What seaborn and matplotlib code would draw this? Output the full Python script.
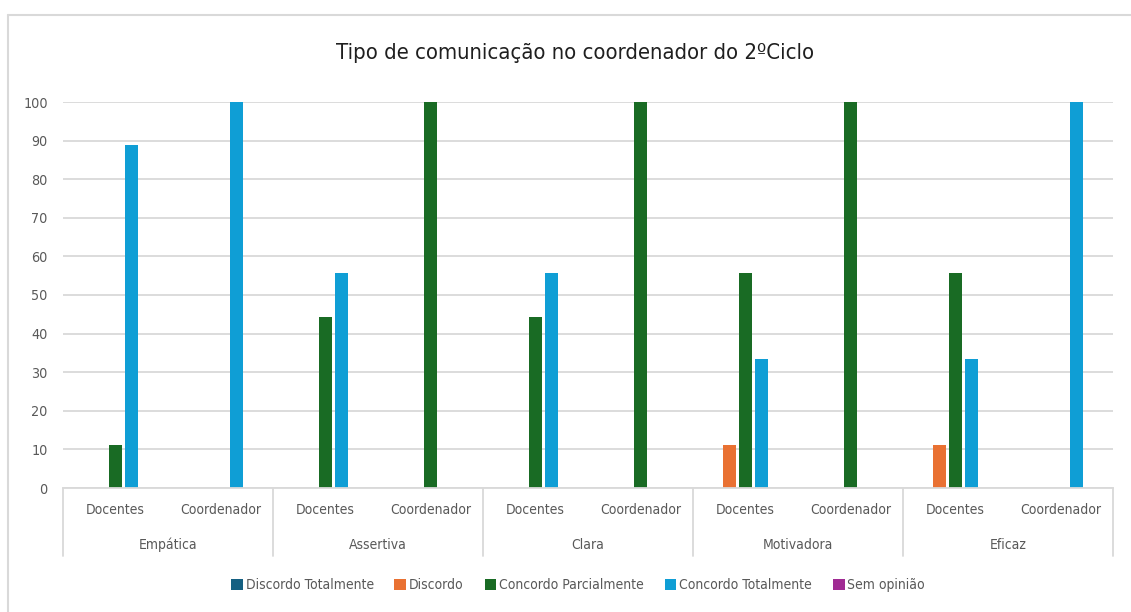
import matplotlib
matplotlib.use("Agg")
import matplotlib.pyplot as plt
import matplotlib.transforms as mtransforms
from matplotlib.patches import Patch
from matplotlib.lines import Line2D
import seaborn as sns
import pandas as pd

# Categorias (dois níveis) e séries
atributos = ["Empática", "Assertiva", "Clara", "Motivadora", "Eficaz"]
inquiridos = ["Docentes", "Coordenador"]
series = ["Discordo Totalmente", "Discordo", "Concordo Parcialmente",
          "Concordo Totalmente", "Sem opinião"]
cores = ["#156082", "#E97132", "#196B24", "#0F9ED5", "#A02B93"]

# Percentagens por categoria (ordem: atributo x inquirido)
discordo_totalmente = [0, 0, 0, 0, 0, 0, 0, 0, 0, 0]
discordo = [0, 0, 0, 0, 0, 0, 11.1, 0, 11.1, 0]
concordo_parcialmente = [11.1, 0, 44.4, 100, 44.4, 100, 55.6, 100, 55.6, 0]
concordo_totalmente = [88.9, 100, 55.6, 0, 55.6, 0, 33.3, 0, 33.3, 100]
sem_opiniao = [0, 0, 0, 0, 0, 0, 0, 0, 0, 0]
y_ticks = [0, 10, 20, 30, 40, 50, 60, 70, 80, 90, 100]

categorias = [f"{a}|{i}" for a in atributos for i in inquiridos]
valores = [discordo_totalmente, discordo, concordo_parcialmente,
           concordo_totalmente, sem_opiniao]
df = pd.DataFrame([
    {"categoria": c, "serie": s, "valor": v}
    for s, vals in zip(series, valores)
    for c, v in zip(categorias, vals)
])

sns.set_theme(style="white")
plt.rcParams["font.family"] = ["DejaVu Sans"]
plt.rcParams["font.stretch"] = "condensed"

W, H = 1131, 612
fig = plt.figure(figsize=(W / 100, H / 100), dpi=100)
ax = fig.add_axes([63 / W, 1 - 488 / H, (1113 - 63) / W, (488 - 102) / H])

sns.barplot(data=df, x="categoria", y="valor", hue="serie",
            order=categorias, hue_order=series, palette=cores, saturation=1,
            width=0.76, gap=0.18, linewidth=0, legend=False, ax=ax)

grid_c = "#D9D9D9"
txt_c = "#595959"
fs = 10
ax.set_ylim(0, 100)
ax.set_xlim(-0.5, len(categorias) - 0.5)
ax.set_yticks(y_ticks)
ax.set_yticklabels([str(t) for t in y_ticks], fontsize=fs + 0.3, color=txt_c)
ax.tick_params(axis="y", length=0, pad=11)
ax.set_xticks([])
ax.set_xlabel("")
ax.set_ylabel("")
ax.yaxis.grid(True, color=grid_c, linewidth=1.3)
ax.set_axisbelow(True)
for s in ["top", "right", "left"]:
    ax.spines[s].set_visible(False)
ax.spines["bottom"].set_color(grid_c)
ax.spines["bottom"].set_linewidth(1.3)

# Eixo de categorias em dois níveis
trans = mtransforms.blended_transform_factory(ax.transData, ax.transAxes)
for k, c in enumerate(categorias):
    ax.text(k, -0.057, c.split("|")[1], transform=trans, ha="center",
            va="center", fontsize=fs, color=txt_c)
for g, a in enumerate(atributos):
    ax.text(2 * g + 0.5, -0.148, a, transform=trans, ha="center",
            va="center", fontsize=fs, color=txt_c)
for b in range(len(atributos) + 1):
    x = 2 * b - 0.5
    ax.add_line(Line2D([x, x], [0, -0.175], transform=trans, color=grid_c,
                       linewidth=1.3, clip_on=False))

fig.suptitle("Tipo de comunicação no coordenador do 2ºCiclo", x=575 / W,
             y=1 - 53 / H, va="center", fontsize=15.8, color="#1F1F1F")

handles = [Patch(facecolor=c, edgecolor="none", label=s)
           for s, c in zip(series, cores)]
fig.legend(handles=handles, loc="center", bbox_to_anchor=(578 / W, 1 - 585 / H),
           ncol=5, frameon=False, fontsize=fs, handlelength=0.85,
           handleheight=0.85, handletextpad=0.2, columnspacing=1.5,
           labelcolor=txt_c)

# Moldura da área do gráfico
fig.add_artist(Line2D([8 / W, 8 / W], [0, 1 - 15 / H], transform=fig.transFigure,
                      color=grid_c, linewidth=1.5))
fig.add_artist(Line2D([8 / W, 1], [1 - 15 / H, 1 - 15 / H], transform=fig.transFigure,
                      color=grid_c, linewidth=1.5))

fig.savefig("out.png", dpi=100, facecolor="white")
